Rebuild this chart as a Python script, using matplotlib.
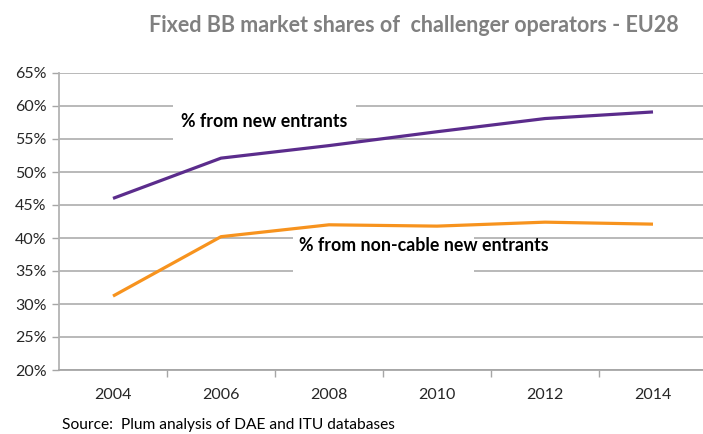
import matplotlib.pyplot as plt
from matplotlib.patches import Rectangle

# Data
years = ['2004', '2006', '2008', '2010', '2012', '2014']
new_entrants = [46.0, 52.1, 54.0, 56.1, 58.1, 59.1]
non_cable = [31.2, 40.2, 42.0, 41.8, 42.4, 42.1]
y_ticks = [20, 25, 30, 35, 40, 45, 50, 55, 60, 65]

plt.rcParams['font.family'] = ['Lato', 'DejaVu Sans']

fig = plt.figure(figsize=(7.03, 4.34), dpi=100)
ax = fig.add_axes([59 / 703, 64 / 434, 648 / 703, 297 / 434])

x = list(range(len(years)))

# White label boxes that hide the gridlines behind the captions
ax.add_patch(Rectangle((0.556, 53.5), 1.69, 8.0, facecolor='white', edgecolor='none', zorder=1))
ax.add_patch(Rectangle((1.667, 34.0), 1.676, 7.0, facecolor='white', edgecolor='none', zorder=1))

ax.plot(x, new_entrants, color='#5B2C8C', linewidth=2.3, solid_capstyle='butt', zorder=3)
ax.plot(x, non_cable, color='#F7931E', linewidth=2.3, solid_capstyle='butt', zorder=3)

ax.text(1.40, 57.6, '% from new entrants', fontsize=12.8, fontweight='bold',
        ha='center', va='center', color='black', zorder=4)
ax.text(2.875, 38.9, '% from non-cable new entrants', fontsize=12.8, fontweight='bold',
        ha='center', va='center', color='black', zorder=4)

# Axes styling
ax.set_xlim(-0.5, 5.5)
ax.set_ylim(20, 65)
ax.set_yticks(y_ticks)
ax.set_yticklabels([f'{v}%' for v in y_ticks])
ax.set_xticks(x)
ax.set_xticklabels(years)
ax.set_xticks([i + 0.5 for i in range(len(years) - 1)], minor=True)
ax.tick_params(axis='x', which='major', length=0, pad=13, labelsize=11.5, labelcolor='#262626')
ax.tick_params(axis='x', which='minor', length=5, color='#a6a6a6', width=1)
ax.tick_params(axis='y', length=5, color='#a6a6a6', width=1, pad=4, labelsize=11.5, labelcolor='#262626')

ax.set_axisbelow(True)
ax.yaxis.grid(True, color='#b3b3b3', linewidth=1.3)
ax.spines['top'].set_visible(False)
ax.spines['right'].set_visible(False)
ax.spines['left'].set_color('#b3b3b3')
ax.spines['left'].set_linewidth(1.3)
ax.spines['bottom'].set_color('#a6a6a6')
ax.spines['bottom'].set_linewidth(1.3)

fig.text(414 / 703, 1 - 25 / 434, 'Fixed BB market shares of  challenger operators - EU28',
         fontsize=15.5, fontweight='bold', color='#808080', ha='center', va='center')
fig.text(62 / 703, 1 - 425 / 434, 'Source:  Plum analysis of DAE and ITU databases',
         fontsize=11.2, color='black', ha='left', va='center')

plt.savefig('out.png', dpi=100)
